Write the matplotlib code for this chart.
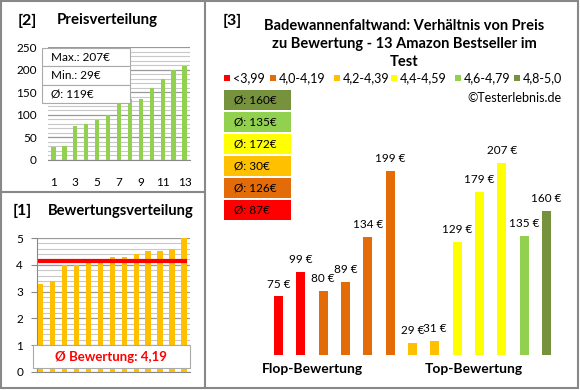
import matplotlib.pyplot as plt
from matplotlib.patches import Rectangle

plt.rcParams['font.family'] = ['Lato', 'DejaVu Sans']

# data
preise_sortiert = [29, 31, 75, 80, 89, 99, 129, 134, 135, 160, 179, 199, 207]
bewertungen = [3.3, 3.4, 4.0, 4.0, 4.1, 4.1, 4.3, 4.3, 4.4, 4.5, 4.5, 4.6, 5.0]
preise = [75, 99, 80, 89, 134, 199, 29, 31, 129, 179, 207, 135, 160]
klasse = [0, 0, 1, 1, 1, 1, 2, 2, 3, 3, 3, 4, 5]
klassen_labels = ['<3,99', '4,0-4,19', '4,2-4,39', '4,4-4,59', '4,6-4,79', '4,8-5,0']
klassen_farben = ['#FF0000', '#E36C09', '#FFC000', '#FFFF00', '#92D050', '#76923C']
klassen_schnitt = [87, 126, 30, 172, 135, 160]
info_texte = ['Max.: 207€', 'Min.: 29€', 'Ø: 119€']

W, H = 580, 390
fig = plt.figure(figsize=(5.8, 3.9), dpi=100)


def box(l, t, r, b):
    return [l / W, 1 - b / H, (r - l) / W, (b - t) / H]


grey = '#888888'

# [2] Preisverteilung
ax2 = fig.add_axes(box(48, 47, 190, 160))
x = range(1, 14)
ax2.bar(x, preise_sortiert, width=0.4, color='#92D050', zorder=3)
ax2.set_xlim(0.5, 13.5)
ax2.set_ylim(0, 250)
ax2.set_yticks(range(0, 251, 50))
ax2.set_yticks(range(0, 251, 10), minor=True)
ax2.grid(axis='y', which='minor', color='#C8C8C8', lw=0.8)
ax2.grid(axis='y', which='major', color='#999999', lw=0.9)
ax2.set_xticks(range(1, 14, 2))
ax2.tick_params(axis='x', length=0, pad=12, labelsize=8.5)
ax2.tick_params(axis='y', which='both', length=0, pad=8, labelsize=8.5)
for s in ['top', 'right', 'left']:
    ax2.spines[s].set_visible(False)
ax2.spines['bottom'].set_color(grey)

# [1] Bewertungsverteilung
ax1 = fig.add_axes(box(37, 238, 190, 372))
ax1.bar(x, bewertungen, width=0.45, color='#FFC000', zorder=3)
schnitt = sum(bewertungen) / len(bewertungen)
ax1.plot([0.95, 13.1], [4.16, 4.16], color='#FF0000', lw=3, zorder=4)
ax1.set_xlim(0.7, 13.5)
ax1.set_ylim(0, 5)
ax1.set_yticks(range(0, 6))
ax1.set_yticks([i / 5 for i in range(26)], minor=True)
ax1.grid(axis='y', which='minor', color='#C8C8C8', lw=0.8)
ax1.grid(axis='y', which='major', color='#999999', lw=0.9)
ax1.set_xticks([])
ax1.tick_params(axis='y', which='major', length=4, color=grey, pad=6, labelsize=8.5)
ax1.tick_params(axis='y', which='minor', length=0)
for s in ['top', 'right']:
    ax1.spines[s].set_visible(False)
ax1.spines['left'].set_color(grey)
ax1.spines['bottom'].set_color(grey)

# [3] Preis vs Bewertung
ax3 = fig.add_axes(box(265, 130, 560, 355))
farben = [klassen_farben[k] for k in klasse]
ax3.bar(range(13), preise, width=0.4, color=farben)
ax3.set_xlim(-0.6, 12.6)
ax3.set_ylim(17, 240)
for i, p in enumerate(preise):
    ax3.annotate(f'{p} €', (i, p), xytext=(0, 5), textcoords='offset points',
                 ha='center', va='bottom', fontsize=8.5)
ax3.axis('off')

# overlay in pixel coords
ov = fig.add_axes([0, 0, 1, 1])
ov.set_xlim(0, W)
ov.set_ylim(H, 0)
ov.axis('off')
ov.add_patch(Rectangle((1, 1), 577, 387, fill=False, ec=grey, lw=1.5))
ov.plot([205, 205], [1, 388], color=grey, lw=1.5)
ov.plot([1, 205], [192, 192], color=grey, lw=1.5)

ov.text(18, 21, '[2]', fontsize=11.5, fontweight='bold', va='center')
ov.text(57, 20, 'Preisverteilung', fontsize=10.8, fontweight='bold', va='center')
ov.text(13, 211, '[1]', fontsize=11.5, fontweight='bold', va='center')
ov.text(48, 211, 'Bewertungsverteilung', fontsize=10.6, fontweight='bold', va='center')
ov.text(223, 21, '[3]', fontsize=11.5, fontweight='bold', va='center')
ov.text(404, 44, 'Badewannenfaltwand: Verhältnis von Preis\nzu Bewertung - 13 Amazon Bestseller im\nTest',
        fontsize=10.5, fontweight='bold', ha='center', va='center', linespacing=1.33)

# info box panel 2
for i, t in enumerate(info_texte):
    y0 = 48 + i * 18.3
    ov.add_patch(Rectangle((42, y0), 88, 18.3, fc='white', ec='#AAAAAA', lw=0.8, zorder=5))
    ov.text(51, y0 + 9.5, t, fontsize=8.5, va='center', zorder=6)

# avg box panel 1
ov.add_patch(Rectangle((33, 345), 157, 23, fc='white', ec='#AAAAAA', lw=0.8, zorder=5))
ov.text(111, 357, 'Ø Bewertung: ' + f'{schnitt:.2f}'.replace('.', ','), color='#FF0000',
        fontsize=9.5, fontweight='bold', ha='center', va='center', zorder=6)

# legend row
leg_x = [227, 273, 337, 394, 458, 517]
for lx, lab, c in zip(leg_x, klassen_labels, klassen_farben):
    ov.add_patch(Rectangle((lx - 3, 75), 6, 6, fc=c, ec='none'))
    ov.text(lx + 6, 78, lab, fontsize=9, va='center')
ov.text(562, 98, '©Testerlebnis.de', fontsize=9, ha='right', va='center')

# avg boxes panel 3
box_y = [90, 112, 134, 156, 178, 200]
for k, y0 in zip(range(5, -1, -1), box_y):
    ov.add_patch(Rectangle((224, y0), 67, 19.5, fc=klassen_farben[k], ec='none'))
    ov.text(234, y0 + 10, f'Ø: {klassen_schnitt[k]}€', fontsize=8.5, va='center')

ov.text(312, 369, 'Flop-Bewertung', fontsize=10, fontweight='bold', ha='center', va='center')
ov.text(474, 369, 'Top-Bewertung', fontsize=10, fontweight='bold', ha='center', va='center')

fig.savefig('out.png', dpi=100)
